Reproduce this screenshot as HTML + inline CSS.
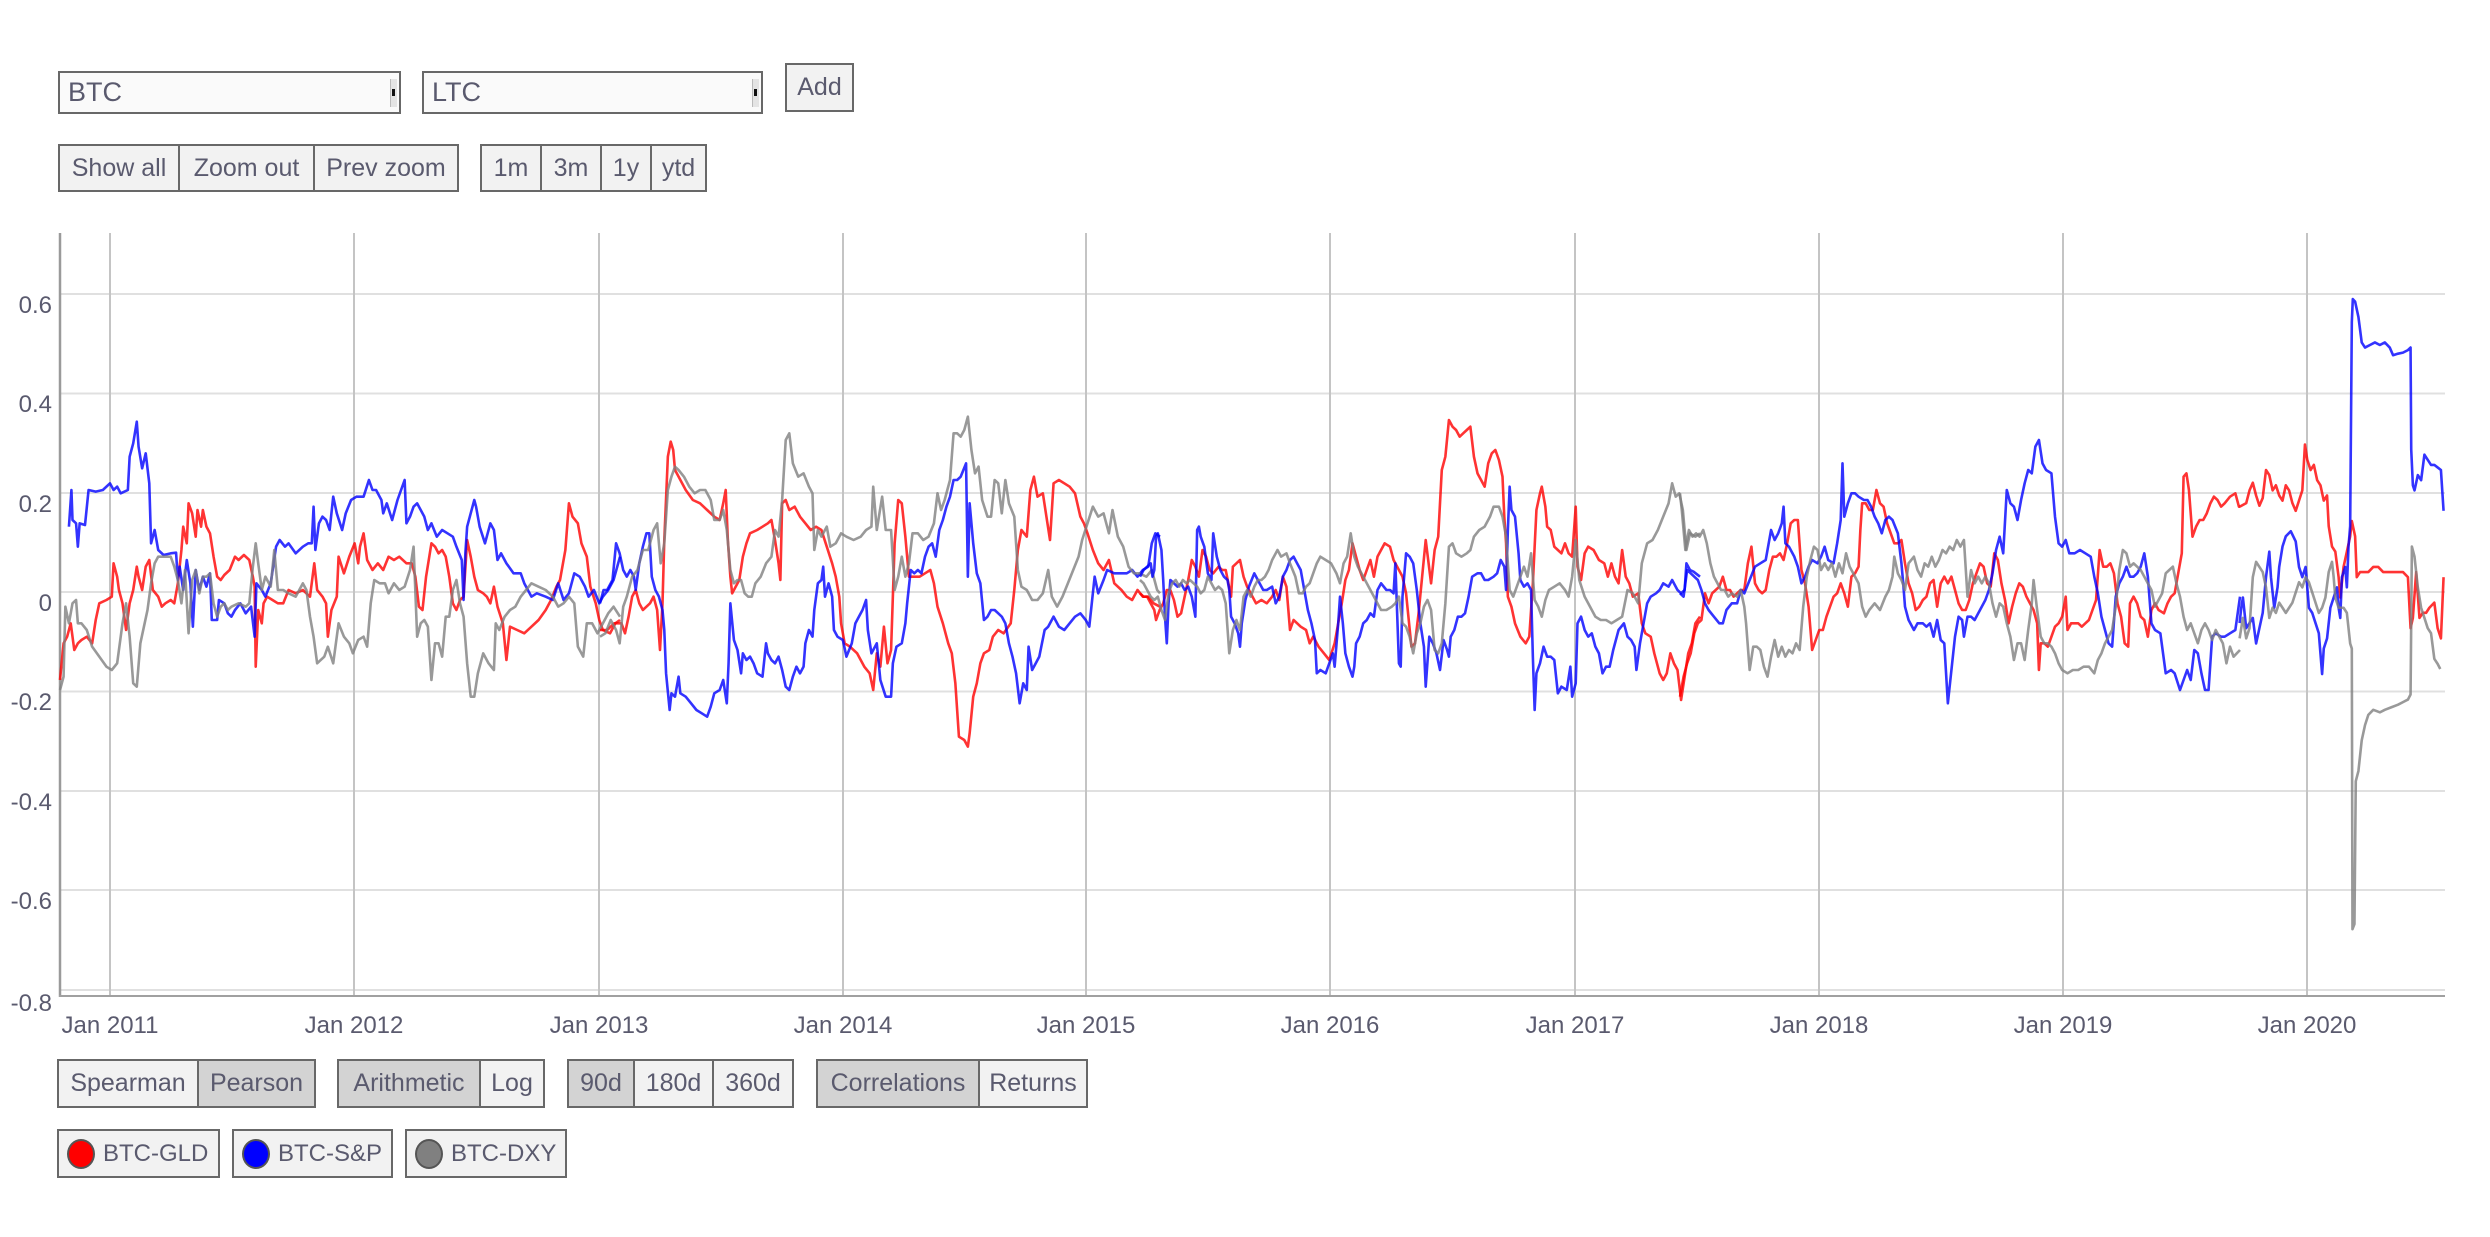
<!DOCTYPE html>
<html><head><meta charset="utf-8"><style>
html,body{margin:0;padding:0;background:#fff;}
body{width:2490px;height:1237px;position:relative;overflow:hidden;font-family:"Liberation Sans",sans-serif;color:#5a5a6e;}
.b{position:absolute;box-sizing:border-box;border:2px solid #686868;background:#f2f2f2;display:flex;align-items:center;justify-content:center;font-size:25px;white-space:nowrap;}
.s{background:#d3d3d3;}
.sel{position:absolute;box-sizing:border-box;border:2px solid #686868;background:#fafafa;font-size:27px;display:flex;align-items:center;padding-left:8px;}
.sel i{position:absolute;right:2px;top:6px;width:6px;height:28px;background:#e4e4e4;border-left:1px solid #bbb;}
.sel i:after{content:"";position:absolute;left:1px;top:10px;width:3px;height:7px;background:#111;}
.dot{display:inline-block;width:28px;height:30px;border-radius:50%;border:2px solid #555;margin-right:8px;box-sizing:border-box;}
.lg{justify-content:flex-start;padding-left:8px;font-size:24px;}
svg{position:absolute;left:0;top:0;}
</style></head><body>
<svg width="2490" height="1237" xmlns="http://www.w3.org/2000/svg">
<g stroke="#e0e0e0" stroke-width="2">
<line x1="60" x2="2445" y1="294" y2="294"/>
<line x1="60" x2="2445" y1="393.5" y2="393.5"/>
<line x1="60" x2="2445" y1="493" y2="493"/>
<line x1="60" x2="2445" y1="592" y2="592"/>
<line x1="60" x2="2445" y1="691.5" y2="691.5"/>
<line x1="60" x2="2445" y1="791" y2="791"/>
<line x1="60" x2="2445" y1="890" y2="890"/>
<line x1="60" x2="2445" y1="990" y2="990"/>
</g>
<g stroke="#c4c4c4" stroke-width="2">
<line x1="110" x2="110" y1="233" y2="996"/>
<line x1="354" x2="354" y1="233" y2="996"/>
<line x1="599" x2="599" y1="233" y2="996"/>
<line x1="843" x2="843" y1="233" y2="996"/>
<line x1="1086" x2="1086" y1="233" y2="996"/>
<line x1="1330" x2="1330" y1="233" y2="996"/>
<line x1="1575" x2="1575" y1="233" y2="996"/>
<line x1="1819" x2="1819" y1="233" y2="996"/>
<line x1="2063" x2="2063" y1="233" y2="996"/>
<line x1="2307" x2="2307" y1="233" y2="996"/>
</g>
<line x1="60" x2="60" y1="233" y2="997" stroke="#9a9a9a" stroke-width="2.5"/>
<line x1="59" x2="2445" y1="996" y2="996" stroke="#a0a0a0" stroke-width="2"/>
<g font-family="Liberation Sans, sans-serif" font-size="24" fill="#5a5a6e" text-anchor="end">
<text x="52" y="313">0.6</text>
<text x="52" y="412">0.4</text>
<text x="52" y="512">0.2</text>
<text x="52" y="611">0</text>
<text x="52" y="710">-0.2</text>
<text x="52" y="810">-0.4</text>
<text x="52" y="909">-0.6</text>
<text x="52" y="1011">-0.8</text>
</g>
<g font-family="Liberation Sans, sans-serif" font-size="24" fill="#5a5a6e" text-anchor="middle">
<text x="110" y="1033">Jan 2011</text>
<text x="354" y="1033">Jan 2012</text>
<text x="599" y="1033">Jan 2013</text>
<text x="843" y="1033">Jan 2014</text>
<text x="1086" y="1033">Jan 2015</text>
<text x="1330" y="1033">Jan 2016</text>
<text x="1575" y="1033">Jan 2017</text>
<text x="1819" y="1033">Jan 2018</text>
<text x="2063" y="1033">Jan 2019</text>
<text x="2307" y="1033">Jan 2020</text>
</g>
<g fill="none" stroke-width="2.6" stroke-linejoin="round" stroke-opacity="0.8">
<g transform="translate(60,390) scale(0.357143,0.333333)">
<polyline vector-effect="non-scaling-stroke" stroke="#ff0000" points="0,870 10,760 20,740 30,700 40,780 50,760 60,750 75,740 90,760 100,690 110,640 130,630 145,620 150,520 160,560 165,600 175,640 185,720 195,640 205,600 215,530 220,560 230,600 240,530 250,510 260,600 275,620 285,650 295,640 310,630 320,640 330,580 340,480 345,410 355,460 360,340 370,370 380,440 385,360 395,410 400,360 410,410 420,430 430,500 440,560 450,570 460,555 475,540 490,500 500,510 515,495 530,510 540,560 545,590 548,830 555,660 565,700 570,640 580,620 595,630 610,640 625,640 640,600 660,610 680,600 700,620 712,520 720,600 735,620 745,640 750,740 760,660 775,620 780,500 795,550 810,500 825,460 835,520 840,470 850,430 860,510 875,540 890,520 905,540 920,500 935,510 950,500 970,520 985,520 995,560 1005,650 1015,660 1025,560 1040,460 1050,470 1060,490 1070,480 1080,500 1090,560 1100,640 1110,660 1120,630 1130,620 1140,450 1150,500 1160,560 1170,600 1185,610 1195,620 1205,640 1215,590 1225,650 1240,700 1250,810 1260,710 1280,720 1300,730 1320,710 1340,690 1360,660 1375,630 1390,590 1400,570 1415,480 1425,340 1435,380 1450,400 1460,460 1475,500 1485,590 1500,640 1510,690 1520,720 1540,730 1555,700 1568,690"/>
<polyline vector-effect="non-scaling-stroke" stroke="#0000ff" points="25,410 32,300 35,390 45,400 50,470 55,400 70,405 80,300 100,305 120,300 140,280 150,300 160,290 170,310 190,300 195,200 205,160 215,95 220,170 230,235 240,190 250,280 255,460 265,420 275,480 290,495 310,490 325,488 330,570 335,530 345,600 355,510 365,580 372,710 380,540 390,600 400,560 410,590 420,550 425,690 440,690 445,630 460,640 470,670 480,680 490,660 505,640 520,670 535,650 545,740 550,580 565,600 575,620 590,580 605,470 615,450 630,470 640,460 660,490 680,470 695,460 705,460 710,350 715,480 725,400 735,380 745,390 755,420 765,320 775,370 790,420 800,370 815,330 830,320 850,320 865,270 875,300 885,300 900,330 905,370 915,340 930,390 945,330 955,300 965,270 970,400 980,380 990,350 1000,340 1010,360 1020,380 1030,420 1040,400 1055,440 1070,420 1085,430 1100,440 1110,470 1125,510 1130,630 1135,490 1140,410 1150,370 1160,330 1165,350 1175,410 1190,460 1205,400 1215,420 1225,510 1235,490 1250,520 1270,550 1290,550 1300,580 1320,620 1335,610 1360,620 1380,630 1395,580 1410,630 1425,610 1440,550 1455,560 1470,590 1480,620 1495,600 1510,640 1520,620 1535,600 1550,570 1568,500"/>
<polyline vector-effect="non-scaling-stroke" stroke="#808080" points="0,900 10,860 15,650 25,700 35,640 45,630 50,700 60,700 75,720 90,770 110,800 130,830 145,840 160,820 175,700 185,640 195,740 205,880 215,890 225,760 235,710 245,660 255,580 265,520 275,500 290,500 310,500 320,530 330,570 340,640 350,540 360,730 370,570 380,540 390,610 400,560 410,560 420,550 430,640 440,680 450,650 460,640 470,660 480,650 500,640 520,650 530,640 540,530 548,460 555,520 565,600 575,560 590,590 600,480 610,600 625,600 640,610 660,620 680,580 690,600 700,680 710,740 720,820 740,800 750,770 765,820 780,700 795,740 810,760 820,790 835,750 850,740 860,770 870,640 880,570 895,580 910,580 920,610 935,580 950,600 965,590 980,540 990,470 1000,740 1010,700 1020,690 1030,710 1040,870 1050,760 1060,760 1070,800 1080,680 1090,680 1100,600 1110,570 1120,640 1130,680 1140,820 1150,920 1160,920 1170,850 1185,790 1200,820 1215,840 1220,700 1230,720 1245,680 1260,660 1275,650 1290,620 1305,600 1320,580 1340,590 1360,600 1380,620 1395,650 1410,640 1425,620 1440,640 1450,770 1465,800 1475,700 1490,700 1505,730 1520,700 1535,670 1550,650 1568,680"/>
</g>
<g transform="translate(600,390) scale(0.357143,0.333333)">
<polyline vector-effect="non-scaling-stroke" stroke="#ff0000" points="0,720 20,720 40,700 60,700 70,730 80,680 90,620 100,600 110,640 120,660 130,650 140,640 150,620 160,660 168,780 175,640 180,450 190,200 198,155 205,180 210,240 220,260 240,300 260,330 280,340 300,360 320,380 335,390 345,340 352,300 358,450 365,560 370,610 380,590 390,570 400,500 410,460 420,430 440,420 455,410 470,400 480,390 490,450 500,520 505,570 510,340 520,330 530,360 545,350 560,380 575,400 590,420 605,410 620,420 635,470 650,520 660,560 670,620 675,700 685,760 700,770 720,790 740,830 755,850 765,900 775,790 785,830 795,710 805,820 815,780 825,460 835,330 845,340 855,440 865,560 880,560 895,560 910,550 925,540 935,580 945,650 960,700 975,760 985,790 995,880 1005,1040 1020,1050 1030,1070 1035,1030 1045,920 1055,880 1065,820 1075,790 1090,780 1100,740 1115,720 1130,730 1150,700 1160,600 1170,480 1180,420 1195,440 1205,300 1215,260 1225,320 1240,310 1250,380 1260,450 1270,280 1285,270 1300,280 1315,290 1330,310 1345,380 1355,400 1365,430 1380,480 1395,520 1410,540 1425,510 1440,580 1460,600 1475,620 1490,630 1505,600 1520,620 1535,620 1550,640 1568,650"/>
<polyline vector-effect="non-scaling-stroke" stroke="#0000ff" points="0,640 10,600 20,600 35,570 45,460 55,490 65,540 75,560 85,540 95,560 100,600 110,520 120,470 130,430 138,430 145,560 155,600 165,620 175,660 180,720 185,850 195,960 200,910 210,920 220,860 225,910 240,920 255,940 270,960 285,970 300,980 310,950 320,910 335,900 345,870 355,940 360,820 365,640 375,750 385,780 395,850 400,790 410,810 420,800 430,820 440,850 455,860 465,760 470,790 480,810 490,820 500,800 510,840 520,890 530,900 540,860 550,830 560,850 570,830 575,760 585,720 595,740 600,660 610,580 620,570 625,530 630,620 640,580 650,620 655,720 665,740 680,750 690,800 705,760 715,700 725,680 735,660 745,630 750,720 760,790 775,760 785,870 800,920 815,920 820,820 830,770 845,760 855,700 860,640 870,540 880,550 890,540 900,550 910,500 920,470 930,460 940,500 950,420 960,390 970,350 980,320 990,270 1000,270 1010,260 1025,220 1030,560 1035,340 1045,460 1055,550 1065,580 1075,690 1085,680 1095,660 1105,660 1115,670 1125,680 1135,700 1145,760 1155,800 1165,850 1175,940 1185,880 1195,900 1200,770 1210,840 1220,820 1230,800 1245,720 1255,710 1270,680 1285,710 1300,720 1315,700 1330,680 1345,670 1360,690 1370,710 1385,560 1395,610 1410,570 1420,540 1440,550 1460,550 1475,550 1490,540 1505,560 1520,540 1535,530 1545,460 1555,430 1568,440"/>
<polyline vector-effect="non-scaling-stroke" stroke="#808080" points="0,740 15,730 30,690 45,720 55,760 65,650 75,620 90,560 105,540 120,480 135,480 150,420 160,400 170,520 180,460 190,300 200,260 210,230 220,240 235,260 250,290 265,310 280,300 295,300 310,330 320,390 335,390 345,360 355,420 365,540 375,580 385,570 395,570 405,610 415,620 425,620 435,580 450,560 465,520 480,500 490,420 500,440 510,330 520,150 530,130 540,220 555,260 570,250 585,290 595,310 600,480 610,420 620,440 635,410 645,470 660,460 675,430 690,440 710,450 730,440 745,420 760,410 765,290 775,420 790,320 800,420 815,420 825,600 835,560 845,500 855,560 865,520 875,430 890,430 905,450 920,440 935,400 945,310 955,360 965,330 980,270 990,130 1000,130 1010,140 1020,120 1030,80 1040,180 1050,250 1060,230 1070,330 1085,380 1095,380 1105,270 1115,280 1125,370 1135,270 1145,340 1160,380 1170,540 1180,590 1195,600 1210,630 1225,630 1240,610 1255,540 1265,620 1280,650 1295,620 1310,580 1325,540 1340,500 1350,450 1365,400 1380,350 1395,380 1410,370 1425,430 1435,360 1450,440 1465,470 1480,530 1495,550 1510,550 1530,560 1545,540 1560,600 1568,610"/>
</g>
<g transform="translate(1140,390) scale(0.357143,0.333333)">
<polyline vector-effect="non-scaling-stroke" stroke="#ff0000" points="0,610 10,620 20,620 30,640 40,660 45,690 55,660 65,640 75,600 85,600 95,630 105,680 115,670 125,620 135,570 145,510 155,530 165,560 175,480 185,500 195,540 205,550 220,530 230,540 240,540 255,620 260,530 270,520 280,510 290,560 300,590 310,610 325,640 340,630 355,640 370,620 380,600 390,630 400,560 410,590 420,720 430,690 440,700 450,710 465,720 475,760 485,740 500,770 515,790 530,810 545,760 555,700 565,640 575,570 585,540 595,460 605,500 615,540 625,570 635,540 645,510 655,560 665,500 675,480 685,460 700,470 710,510 725,540 735,560 745,610 760,770 770,760 780,670 790,560 800,450 815,580 825,480 835,440 845,240 855,200 865,90 875,110 885,120 895,140 905,130 915,120 925,110 935,200 945,250 955,270 965,290 975,220 985,190 995,180 1005,210 1015,260 1020,380 1025,460 1030,620 1040,650 1050,700 1065,740 1080,760 1090,740 1100,580 1110,360 1120,310 1125,290 1135,350 1140,410 1150,420 1160,470 1170,480 1180,490 1190,460 1200,490 1210,500 1220,350 1225,530 1235,570 1245,490 1255,470 1270,480 1285,510 1300,520 1310,560 1320,520 1330,560 1340,580 1350,480 1360,560 1370,580 1380,620 1395,610 1405,700 1415,730 1430,740 1440,790 1455,850 1465,870 1475,850 1485,790 1495,820 1505,840 1515,930 1525,860 1535,790 1545,760 1555,700 1568,680"/>
<polyline vector-effect="non-scaling-stroke" stroke="#0000ff" points="0,560 10,540 20,530 30,520 35,560 40,540 45,440 50,430 60,480 65,570 70,680 75,760 80,640 85,570 95,580 105,590 115,580 125,600 135,590 145,620 155,680 160,420 165,410 170,440 180,470 190,550 200,570 205,430 215,500 225,540 235,560 245,570 250,600 255,680 265,700 275,730 280,770 285,700 295,630 305,590 320,550 335,580 345,600 355,600 370,590 380,640 390,620 400,560 410,540 420,510 430,500 440,520 450,540 460,600 470,660 480,700 490,750 495,850 505,840 520,850 530,820 540,790 545,830 555,700 560,620 568,700 575,790 585,830 595,860 600,830 605,760 615,740 625,700 635,690 645,670 655,680 665,600 675,580 690,600 700,600 710,610 715,520 725,820 730,830 735,620 745,490 755,500 765,520 775,600 785,700 795,770 800,890 810,740 820,760 830,790 840,840 850,750 860,780 865,800 870,740 880,720 890,680 900,680 910,670 920,620 930,560 945,550 955,550 965,570 975,570 990,560 1000,550 1010,510 1020,530 1025,600 1030,420 1035,290 1040,360 1050,380 1060,490 1065,570 1075,590 1085,580 1095,600 1100,800 1105,960 1110,850 1120,820 1130,770 1140,800 1150,800 1160,810 1170,910 1180,890 1195,900 1205,830 1210,920 1220,880 1225,700 1235,680 1245,720 1255,740 1265,730 1275,770 1285,790 1295,850 1305,830 1315,830 1325,780 1340,720 1355,700 1365,740 1375,750 1385,770 1390,840 1400,760 1410,700 1420,640 1430,620 1445,610 1455,600 1465,580 1480,590 1490,570 1505,600 1515,610 1525,600 1530,520 1540,540 1550,545 1568,560"/>
<polyline vector-effect="non-scaling-stroke" stroke="#808080" points="0,570 10,580 20,600 30,620 40,630 50,620 60,660 70,690 80,610 90,580 100,570 110,590 120,570 130,580 140,570 150,580 160,590 170,610 180,600 190,560 200,580 210,600 220,590 230,600 240,640 250,790 260,720 270,690 280,720 290,620 300,600 310,620 320,590 330,570 340,570 350,560 360,540 370,510 385,480 395,500 410,490 420,520 435,560 445,610 455,610 465,590 475,580 485,550 495,520 505,500 520,510 535,520 550,550 560,580 570,520 580,500 590,430 600,500 610,530 625,560 640,590 655,620 665,640 675,660 690,660 705,650 715,640 725,620 735,700 745,710 755,740 765,790 775,730 785,700 795,650 805,630 815,660 825,780 835,790 845,760 855,640 865,470 875,460 885,490 900,500 915,490 925,480 935,440 950,420 965,410 980,380 990,350 1005,350 1015,380 1025,440 1035,600 1045,620 1055,590 1065,560 1075,530 1085,560 1095,490 1105,630 1115,650 1125,680 1135,630 1145,600 1160,590 1175,580 1190,600 1200,620 1210,560 1220,450 1230,570 1245,620 1260,650 1275,680 1290,690 1305,690 1320,700 1335,690 1350,680 1365,600 1380,610 1395,640 1405,520 1420,460 1435,450 1450,420 1465,380 1480,340 1490,280 1500,320 1510,310 1520,360 1530,480 1540,430 1555,440 1568,430"/>
</g>
<g transform="translate(1680,390) scale(0.357143,0.333333)">
<polyline vector-effect="non-scaling-stroke" stroke="#ff0000" points="0,920 10,860 20,820 30,790 40,730 50,700 60,690 70,610 80,640 90,610 100,600 110,590 120,560 130,600 140,600 150,620 160,610 170,600 180,600 190,520 200,470 210,580 220,600 230,610 240,600 250,540 260,500 270,500 280,490 290,510 300,460 310,400 320,390 330,390 340,540 350,580 360,650 370,780 380,750 390,720 400,720 410,680 420,650 430,620 440,610 450,580 460,610 470,650 480,560 490,550 500,530 505,420 510,340 520,340 530,360 540,360 550,300 560,340 570,350 580,400 590,430 600,460 610,460 620,450 630,520 640,580 650,610 660,660 670,650 680,630 690,620 700,580 710,570 720,650 730,580 740,560 750,580 760,560 770,600 780,640 790,660 800,660 810,630 820,580 830,550 840,520 850,530 860,580 870,590 880,490 890,510 900,580 910,630 920,700 930,650 940,610 950,580 960,590 970,620 980,640 990,660 1000,700 1005,840 1010,760 1020,760 1030,770 1040,740 1050,710 1060,700 1070,680 1080,620 1085,720 1095,700 1105,700 1115,700 1125,710 1135,700 1145,690 1155,660 1165,630 1175,480 1185,530 1195,530 1205,520 1215,550 1225,640 1235,680 1245,760 1255,770 1260,640 1270,620 1280,640 1290,680 1300,690 1310,740 1320,660 1330,640 1340,660 1355,670 1365,640 1375,620 1385,610 1395,550 1405,490 1410,260 1418,250 1425,300 1435,440 1445,410 1455,390 1465,390 1475,370 1485,340 1495,320 1505,330 1515,350 1525,340 1540,320 1555,310 1565,350 1568,350"/>
<polyline vector-effect="non-scaling-stroke" stroke="#0000ff" points="0,610 10,620 20,540 30,550 40,560 50,570 60,600 70,640 80,660 95,680 110,700 120,700 130,660 145,640 160,640 170,600 180,610 195,570 210,530 225,520 240,510 255,420 265,450 275,430 285,400 290,350 295,460 305,470 320,500 330,530 340,580 350,560 360,530 370,510 385,520 395,500 405,470 415,510 430,520 440,460 450,390 455,220 460,380 470,340 480,310 490,310 500,320 515,330 525,330 535,350 545,380 555,400 565,430 575,390 585,380 595,390 610,430 620,520 625,580 630,650 640,690 655,720 665,700 680,700 690,710 700,700 710,740 720,690 730,750 740,760 750,940 760,840 770,740 780,680 790,690 795,740 805,680 815,680 825,690 840,660 855,630 865,600 875,550 885,480 895,440 905,490 915,300 925,340 935,350 945,390 955,330 965,280 975,240 985,250 995,170 1005,150 1015,220 1025,240 1040,250 1050,380 1060,460 1070,470 1080,450 1090,490 1105,490 1120,480 1135,490 1150,500 1160,560 1170,610 1180,680 1190,720 1200,760 1210,770 1220,620 1230,580 1240,560 1250,530 1260,560 1270,560 1280,550 1290,530 1300,490 1310,560 1320,700 1330,720 1345,730 1360,850 1375,840 1385,850 1400,900 1410,870 1420,840 1430,870 1440,780 1450,790 1460,850 1470,900 1480,900 1490,740 1500,730 1515,740 1525,740 1540,730 1555,720 1568,620"/>
<polyline vector-effect="non-scaling-stroke" stroke="#808080" points="0,310 5,360 15,480 25,420 35,440 45,430 55,440 65,420 75,460 85,520 95,560 105,580 115,600 125,600 135,620 145,610 160,620 170,600 180,650 185,700 195,840 205,770 215,770 225,780 235,830 245,860 255,800 265,750 275,800 285,770 295,800 305,780 315,790 325,760 335,780 345,650 355,560 365,510 375,470 385,480 395,540 405,520 415,540 425,520 435,560 445,520 455,550 465,490 475,530 490,560 500,580 510,650 520,680 530,660 545,640 560,660 575,620 585,600 595,560 600,500 610,550 620,570 630,600 640,520 655,500 665,540 675,560 685,520 695,530 705,500 715,530 725,510 735,480 745,490 755,470 765,480 775,450 785,470 795,450 805,620 815,540 825,580 835,560 845,580 855,560 865,580 875,640 885,680 895,640 905,650 915,700 925,740 935,810 945,760 955,760 965,810 975,720 985,640 990,570 1000,660 1010,740 1020,760 1030,760 1040,770 1050,790 1060,820 1070,840 1085,850 1100,840 1115,840 1130,830 1145,830 1160,850 1170,810 1180,790 1190,760 1200,740 1210,720 1220,650 1230,540 1240,480 1250,490 1260,530 1270,520 1280,530 1290,540 1300,560 1310,580 1320,600 1330,650 1340,630 1350,610 1360,550 1370,540 1380,530 1390,580 1400,620 1410,680 1420,720 1430,700 1440,730 1450,760 1460,720 1470,700 1480,720 1490,750 1500,720 1510,740 1520,760 1530,820 1540,770 1550,800 1568,780"/>
</g>
<g transform="translate(2200,220) scale(0.330033,0.510204)">
<polyline vector-effect="non-scaling-stroke" stroke="#ff0000" points="120,562 140,555 150,530 160,515 170,540 180,560 190,545 200,490 210,500 220,530 230,520 240,540 250,550 260,520 270,530 280,555 290,570 300,550 310,530 318,440 325,470 335,490 345,480 355,510 365,520 375,550 385,540 390,600 400,640 410,650 420,700 425,740 435,680 445,650 455,620 460,590 470,620 475,700 485,690 495,690 510,690 525,680 540,680 555,690 570,690 585,690 600,690 615,690 630,700 638,800 645,780 655,690 665,780 675,770 685,770 695,760 710,750 720,800 730,820 738,700"/>
<polyline vector-effect="non-scaling-stroke" stroke="#0000ff" points="120,790 125,760 130,740 140,800 150,790 160,780 170,830 180,800 190,770 200,700 210,650 215,700 225,760 235,720 240,680 250,640 260,620 275,610 290,630 300,680 310,700 320,680 330,760 340,770 350,790 360,810 370,890 375,840 385,820 395,760 405,740 415,720 420,760 425,780 430,700 440,680 445,720 450,640 455,600 460,200 463,155 470,160 480,190 490,240 500,250 515,245 530,240 545,245 560,240 575,250 585,265 600,262 615,260 630,255 638,250 640,450 645,520 650,530 660,500 670,510 680,460 690,470 700,480 710,480 720,485 730,490 738,570"/>
<polyline vector-effect="non-scaling-stroke" stroke="#808080" points="120,820 130,780 140,820 150,800 160,700 170,670 180,680 190,690 200,720 210,780 220,760 230,770 240,750 250,760 260,770 270,760 280,750 290,730 300,710 310,720 320,700 330,710 340,730 350,750 360,770 370,760 380,740 390,690 400,670 405,700 410,740 420,760 435,760 445,770 455,830 460,840 462,1390 468,1380 472,1100 480,1080 490,1020 500,990 510,970 525,960 545,965 560,960 580,955 600,950 615,945 630,940 638,930 642,640 650,660 660,720 670,760 680,780 690,800 700,810 710,860 720,870 728,880"/>
</g>
</g>
</svg>

<div class="sel" style="left:58px;top:71px;width:343px;height:43px;">BTC<i></i></div>
<div class="sel" style="left:422px;top:71px;width:341px;height:43px;">LTC<i></i></div>
<div class="b" style="left:785px;top:63px;width:69px;height:49px;">Add</div>

<div class="b" style="left:58px;top:144px;width:122px;height:48px;">Show all</div>
<div class="b" style="left:178px;top:144px;width:137px;height:48px;">Zoom out</div>
<div class="b" style="left:313px;top:144px;width:146px;height:48px;">Prev zoom</div>

<div class="b" style="left:480px;top:144px;width:62px;height:48px;">1m</div>
<div class="b" style="left:540px;top:144px;width:62px;height:48px;">3m</div>
<div class="b" style="left:600px;top:144px;width:52px;height:48px;">1y</div>
<div class="b" style="left:650px;top:144px;width:57px;height:48px;">ytd</div>

<div class="b" style="left:57px;top:1059px;width:142px;height:49px;">Spearman</div>
<div class="b s" style="left:197px;top:1059px;width:119px;height:49px;">Pearson</div>
<div class="b s" style="left:337px;top:1059px;width:144px;height:49px;">Arithmetic</div>
<div class="b" style="left:479px;top:1059px;width:66px;height:49px;">Log</div>
<div class="b s" style="left:567px;top:1059px;width:68px;height:49px;">90d</div>
<div class="b" style="left:633px;top:1059px;width:81px;height:49px;">180d</div>
<div class="b" style="left:712px;top:1059px;width:82px;height:49px;">360d</div>
<div class="b s" style="left:816px;top:1059px;width:164px;height:49px;">Correlations</div>
<div class="b" style="left:978px;top:1059px;width:110px;height:49px;">Returns</div>

<div class="b lg" style="left:57px;top:1129px;width:163px;height:49px;"><span class="dot" style="background:#ff0000;"></span>BTC-GLD</div>
<div class="b lg" style="left:232px;top:1129px;width:161px;height:49px;"><span class="dot" style="background:#0000ff;"></span>BTC-S&amp;P</div>
<div class="b lg" style="left:405px;top:1129px;width:162px;height:49px;"><span class="dot" style="background:#808080;"></span>BTC-DXY</div>
</body></html>
